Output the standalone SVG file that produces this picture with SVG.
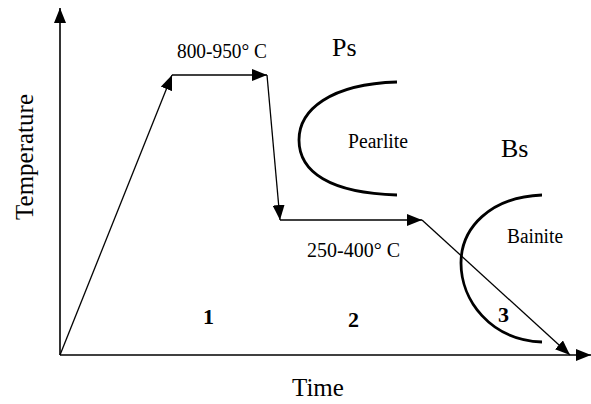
<svg xmlns="http://www.w3.org/2000/svg" width="591" height="404" viewBox="0 0 591 404">
<style>
.t{font-family:"Liberation Serif","Times New Roman",serif;fill:#000}
.ln{stroke:#000;stroke-width:1.3;fill:none}
.ax{stroke:#000;stroke-width:1.6;fill:none}
.cv{stroke:#000;stroke-width:2.8;fill:none;stroke-linecap:butt}
.b{font-weight:bold}
</style>
<defs>
<marker id="ah" markerUnits="userSpaceOnUse" markerWidth="15" markerHeight="12" refX="15" refY="6" orient="auto">
<path d="M0,0 L15,6 L0,12 z" fill="#000"/>
</marker>
<marker id="axh" markerUnits="userSpaceOnUse" markerWidth="15" markerHeight="12" refX="15" refY="6" orient="auto">
<path d="M0,0 L15,6 L0,12 z" fill="#000"/>
</marker>
</defs>
<g id="axes">
<line class="ax" x1="60" y1="355" x2="60" y2="8" marker-end="url(#axh)"/>
<line class="ax" x1="60" y1="355" x2="591" y2="355" marker-end="url(#axh)"/>
</g>
<g id="connectors">
<line class="ln" x1="60" y1="355" x2="172" y2="75" marker-end="url(#ah)"/>
<line class="ln" x1="172" y1="75" x2="267" y2="75" marker-end="url(#ah)"/>
<line class="ln" x1="267" y1="75" x2="280" y2="220" marker-end="url(#ah)"/>
<line class="ln" x1="280" y1="220" x2="422" y2="220" marker-end="url(#ah)"/>
<line class="ln" x1="422" y1="220" x2="570" y2="355" marker-end="url(#ah)"/>
</g>
<g id="pearlite">
<path class="cv" d="M397,82 C330,84 299,110 299,140 C299,172 330,193 397,195"/>
<text class="t" x="348" y="148" font-size="20.5" textLength="60" lengthAdjust="spacingAndGlyphs">Pearlite</text>
<text class="t" x="332" y="56" font-size="26">Ps</text>
</g>
<g id="bainite">
<path class="cv" d="M542,195 C490,197 461,228 461,263 C461,300 490,340 542,342"/>
<text class="t" x="507" y="243" font-size="20.5" textLength="56" lengthAdjust="spacingAndGlyphs">Bainite</text>
<text class="t" x="501" y="157" font-size="26">Bs</text>
</g>
<g id="labels">
<text class="t" x="177" y="58" font-size="20" textLength="90" lengthAdjust="spacingAndGlyphs">800-950° C</text>
<text class="t" x="307" y="257" font-size="20" textLength="93" lengthAdjust="spacingAndGlyphs">250-400° C</text>
<text class="t b" x="203" y="324" font-size="22">1</text>
<text class="t b" x="348" y="327" font-size="22">2</text>
<text class="t b" x="498" y="322" font-size="22">3</text>
<text class="t" x="292" y="396" font-size="25">Time</text>
<text class="t" x="0" y="0" font-size="25" text-anchor="middle" transform="translate(33,157) rotate(-90)">Temperature</text>
</g>
</svg>
